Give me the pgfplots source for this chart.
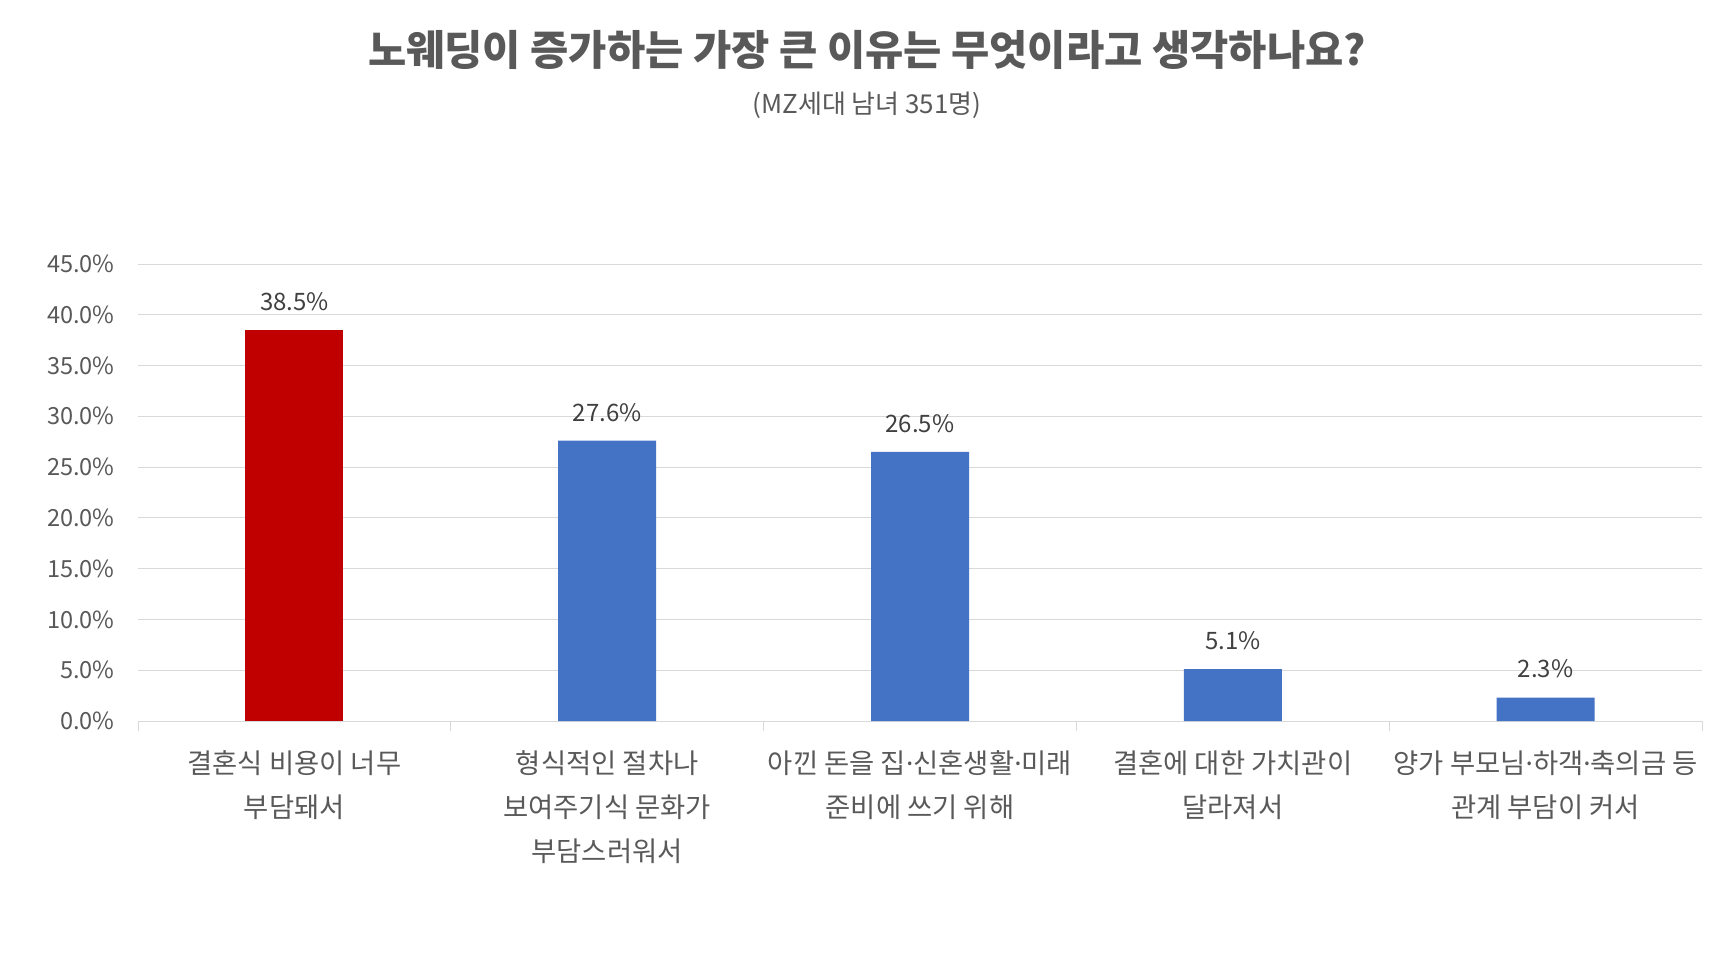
\documentclass[border=0pt]{standalone}
\usepackage{pgfplots}
\pgfplotsset{compat=1.18}
\usepackage{fontspec}
\setmainfont{Noto Sans CJK KR}
\newfontfamily\latinfont{Noto Sans}
\newcommand{\md}{{\latinfont ·}}
\definecolor{cred}{HTML}{C00000}
\definecolor{cblue}{HTML}{4472C4}
\definecolor{cgrid}{HTML}{D9D9D9}
\definecolor{ctext}{HTML}{595959}
\definecolor{clab}{HTML}{404040}
\begin{document}
\begin{tikzpicture}
\path[use as bounding box] (0,0) rectangle (867pt,483pt);
\node[font=\bfseries\fontsize{20.8}{24}\selectfont, text=ctext] at (433.5pt,458pt) {노웨딩이 증가하는 가장 큰 이유는 무엇이라고 생각하나요?};
\node[font=\fontsize{13}{15}\selectfont, text=ctext] at (433.5pt,430.5pt) {(MZ세대 남녀 351명)};
\begin{axis}[
  at={(69pt,122.5pt)}, anchor=south west,
  width=782pt, height=228.5pt, scale only axis,
  xmin=-0.5, xmax=4.5, ymin=0, ymax=45,
  axis x line*=bottom, axis y line*=left,
  axis line style={-},
  x axis line style={draw=cgrid},
  y axis line style={draw=none},
  ytick={0,5,...,45},
  xtick={0,1,2,3,4},
  minor xtick={-0.5,0.5,1.5,2.5,3.5,4.5},
  major tick length=0pt, minor tick length=5pt,
  xtick align=outside,
  minor x tick style={draw=cgrid, thin},
  major tick style={draw=none},
  ymajorgrids, grid style={draw=cgrid, thin},
  /pgf/number format/assume math mode=true,
  yticklabel={\pgfmathprintnumber[fixed,fixed zerofill,precision=1]{\tick}\%},
  yticklabel style={anchor=east, inner sep=0pt, xshift=-11.5pt, font=\fontsize{11.8}{14}\selectfont, text=ctext},
  xticklabels={{결혼식 비용이 너무\\부담돼서},{형식적인 절차나\\보여주기식 문화가\\부담스러워서},{아낀 돈을 집\md 신혼생활\md 미래\\준비에 쓰기 위해},{결혼에 대한 가치관이\\달라져서},{양가 부모님\md 하객\md 축의금 등\\관계 부담이 커서}},
  xticklabel style={align=center, anchor=north, inner sep=0pt, yshift=-14.5pt, font=\fontsize{13.7}{22}\selectfont, text=ctext},
  ybar, bar width=49pt, bar shift=0pt,
  nodes near coords={\pgfmathprintnumber[fixed,fixed zerofill,precision=1]{\pgfplotspointmeta}\%},
  every node near coord/.append style={anchor=south, inner sep=0pt, yshift=9.5pt, font=\fontsize{12}{14}\selectfont, text=clab},
  clip=false,
]
\addplot[fill=cred, draw=none] coordinates {(0,38.5)};
\addplot[fill=cblue, draw=none] coordinates {(1,27.6) (2,26.5) (3,5.1) (4,2.3)};
\end{axis}
\end{tikzpicture}
\end{document}
